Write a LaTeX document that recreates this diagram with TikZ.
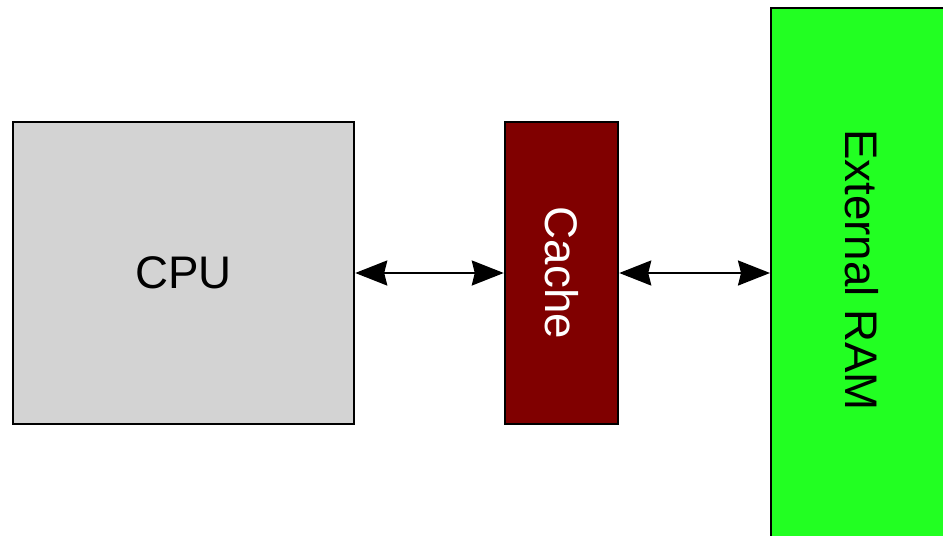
\documentclass[tikz,border=0pt]{standalone}
\usepackage{fontspec}
\setmainfont{Liberation Sans}
\definecolor{CpuGrey}{HTML}{D3D3D3}
\definecolor{CacheRed}{HTML}{800000}
\definecolor{RamGreen}{HTML}{22FF22}
\usetikzlibrary{arrows.meta, positioning}

\begin{document}
\begin{tikzpicture}[>={Stealth[length=0.64cm, width=0.5cm, inset=0.06cm]},
    blk/.style={draw, line width=1.4pt, inner sep=0pt, font=\fontsize{26}{30}\selectfont},
    link/.style={<->, line width=1.2pt}]
  \useasboundingbox (0,0) rectangle (18.86,10.7);
  \clip (0,0) rectangle (18.86,10.7);
  % Blocks
  \node[blk, fill=CpuGrey, minimum width=6.82cm, minimum height=6.04cm] (cpu) at (3.67,5.24) {CPU};
  \node[blk, fill=CacheRed, text=white, minimum width=2.26cm, minimum height=6.04cm] (cache) at (11.23,5.24) {};
  \node[rotate=-90, font=\fontsize{26}{30}\selectfont, text=white] (cachetxt) at (cache.center) {Cache};
  \node[blk, fill=RamGreen, anchor=north west, minimum width=4cm, minimum height=11.5cm] (ram) at (15.4,10.56) {};
  \node[rotate=-90, font=\fontsize{26}{30}\selectfont] (ramtxt) at (17.24,5.3) {External RAM};
  % Links
  \draw[link] (cpu.east) -- (cache.west);
  \draw[link] (cache.east) -- (cache.east -| ram.west);
\end{tikzpicture}
\end{document}
